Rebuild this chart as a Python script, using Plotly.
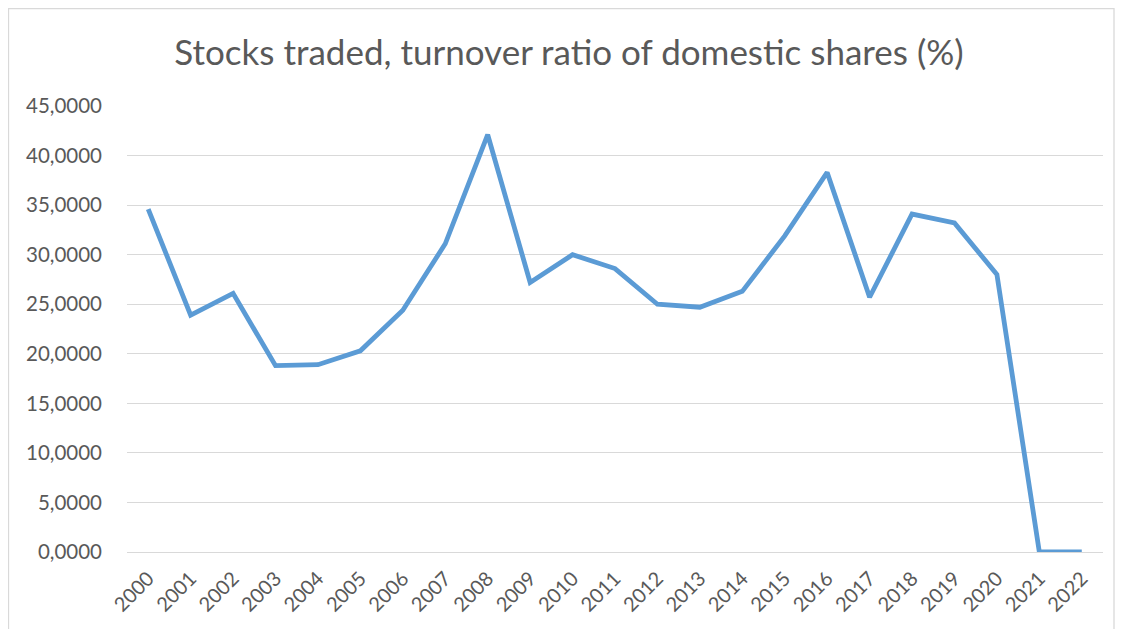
import plotly.graph_objects as go

years = [str(y) for y in range(2000, 2023)]
turnover = [34.6, 23.9, 26.1, 18.8, 18.9, 20.3, 24.4, 31.1, 42.1, 27.2, 30.0, 28.6,
            25.0, 24.7, 26.3, 31.9, 38.3, 25.7, 34.1, 33.2, 28.0, 0.0, 0.0]
y_ticks = [0, 5, 10, 15, 20, 25, 30, 35, 40, 45]

fig = go.Figure()
fig.add_trace(go.Scatter(x=years, y=turnover, mode="lines",
                         line=dict(color="#5B9BD5", width=4.8), hoverinfo="x+y"))

# page body has an 8px margin; work in screen pixels and convert
OFF = 8
W, H = 1123 - 2 * OFF, 637 - 2 * OFF
L = 127 - OFF
T = 106 - OFF
B = H - (552 - OFF)
R = W - (1103 - OFF)
pw, ph = W - L - R, H - T - B

def px_x(p):
    return (p - OFF - L) / pw

def px_y(p):
    return (H - B - (p - OFF)) / ph

fig.add_shape(type="rect", xref="paper", yref="paper",
              x0=px_x(8.5), x1=px_x(1114), y0=px_y(660), y1=px_y(8.5),
              line=dict(color="#D9D9D9", width=1.3), fillcolor="rgba(0,0,0,0)", layer="below")

fig.update_layout(
    width=W, height=H,
    margin=dict(l=L, r=R, t=T, b=B, autoexpand=False),
    paper_bgcolor="white", plot_bgcolor="white",
    separators=",.",
    showlegend=False,
    title=dict(text="Stocks traded, turnover ratio of domestic shares (%)",
               x=(569 - OFF) / W, xanchor="center", y=1 - (53 - OFF) / H, yanchor="middle",
               font=dict(family="Lato, Open Sans, sans-serif", size=35, color="#595959")),
    font=dict(family="Lato, Open Sans, sans-serif", color="#595959"),
    xaxis=dict(type="category", range=[-0.5, len(years) - 0.5], tickangle=-45,
               showgrid=False, showline=False, ticks="", automargin=False,
               ticklabelstandoff=10,
               tickfont=dict(size=20, color="#595959")),
    yaxis=dict(range=[0, 45], tickvals=y_ticks, tickformat=".4f",
               showgrid=True, gridcolor="#D9D9D9", gridwidth=1.3,
               zeroline=True, zerolinecolor="#D9D9D9", zerolinewidth=1.3,
               showline=False, ticks="", automargin=False,
               ticklabelstandoff=24,
               tickfont=dict(size=20.5, color="#595959")),
)

fig.write_html("out.html")
